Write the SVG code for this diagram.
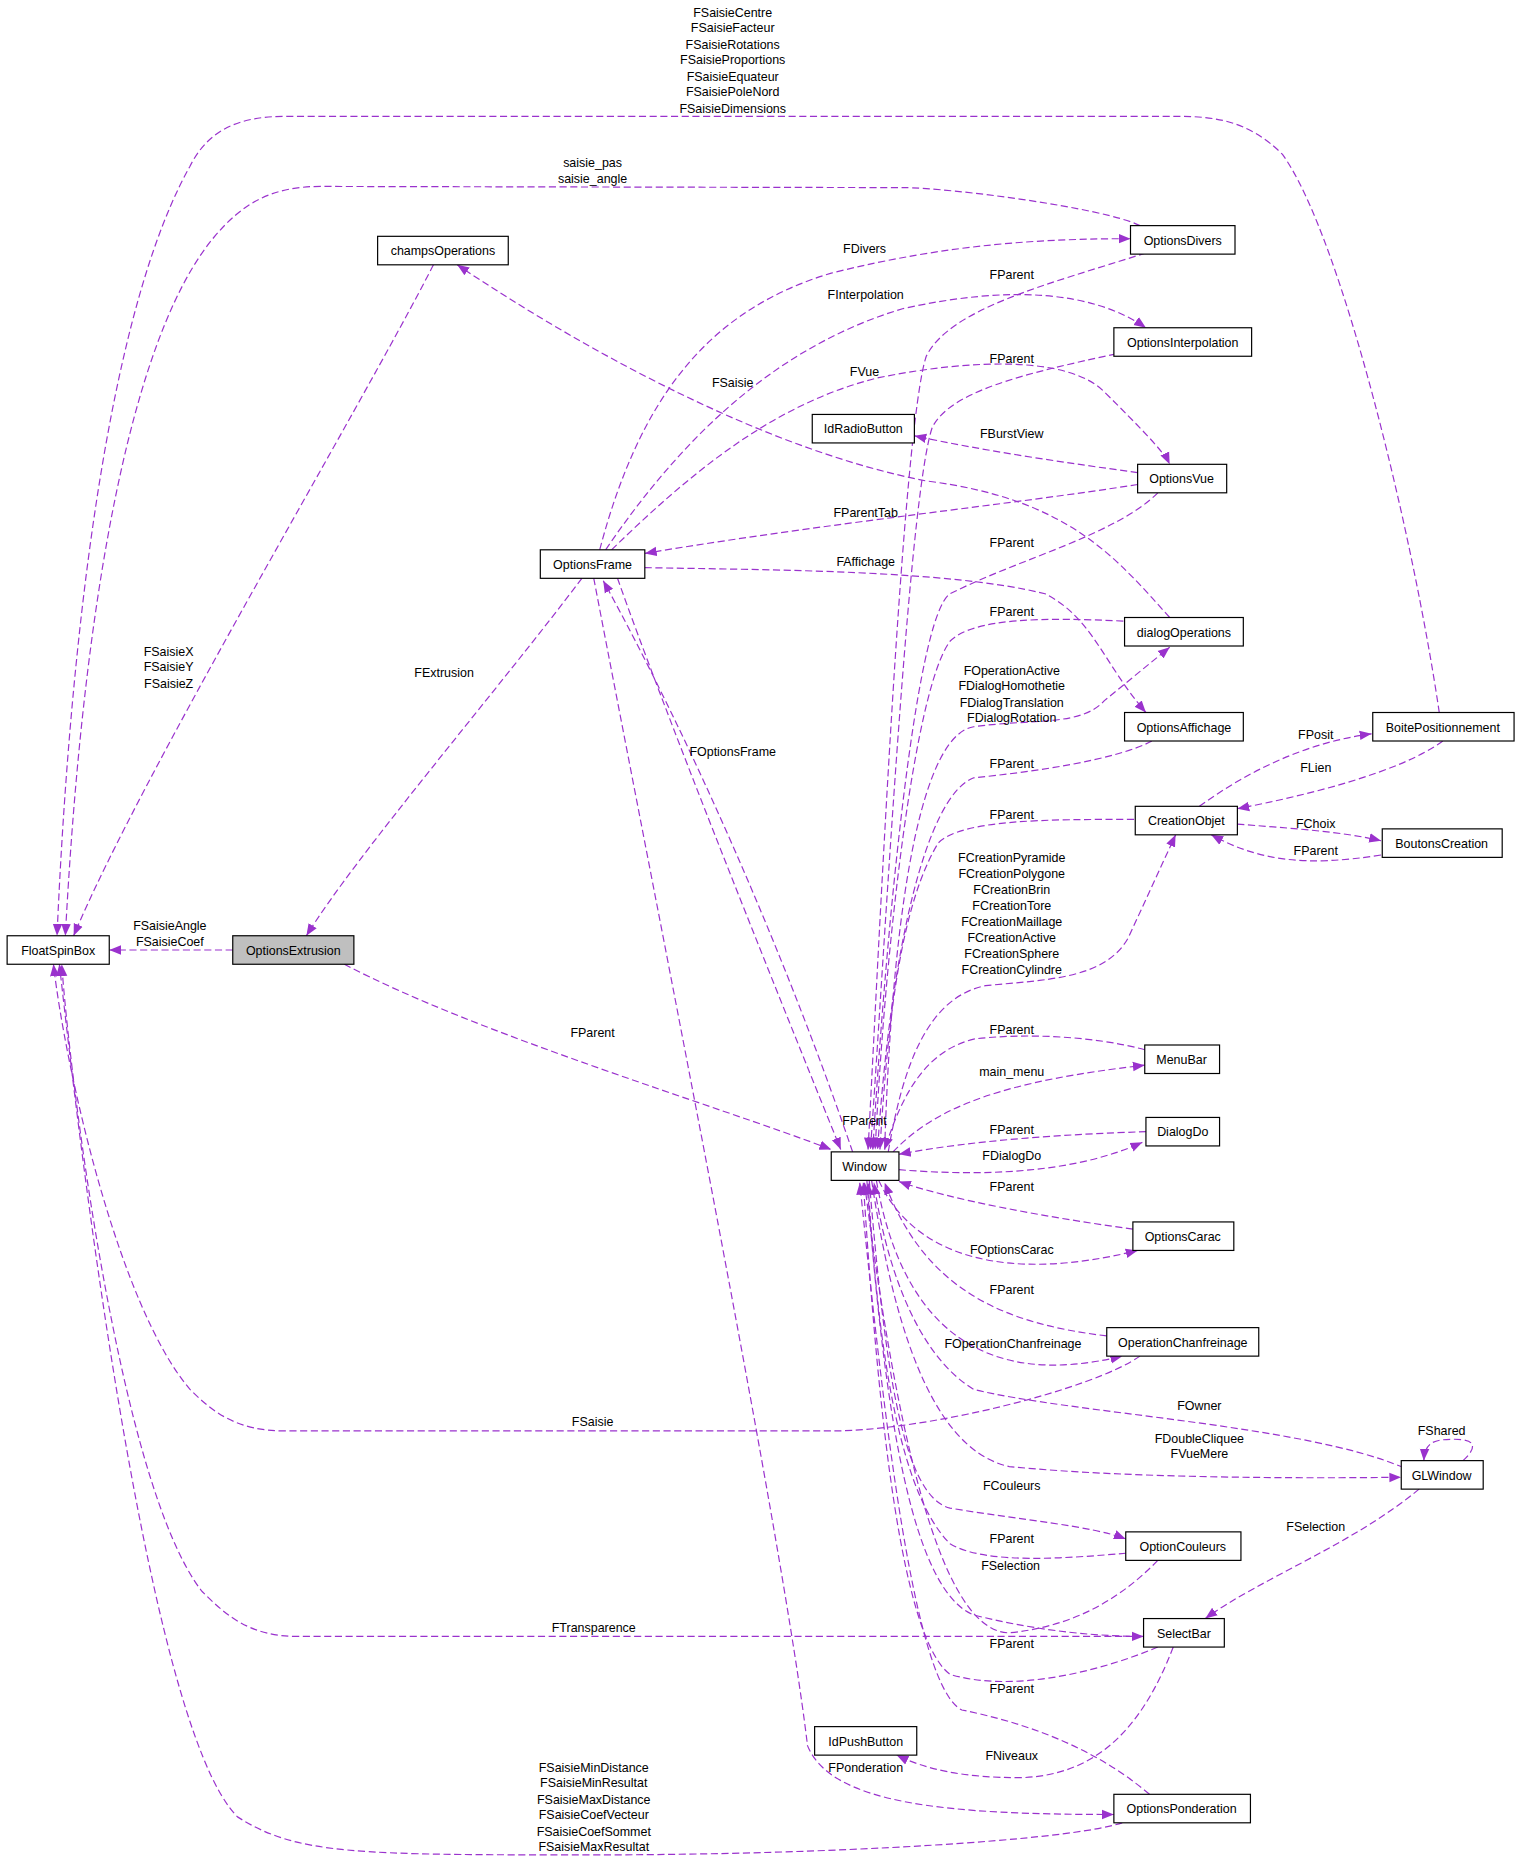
<svg xmlns="http://www.w3.org/2000/svg" width="1520" height="1863" viewBox="0 0 1520 1863">
<defs>
<marker id="ah" viewBox="0 0 10 10" refX="10" refY="5" markerWidth="10" markerHeight="10" markerUnits="userSpaceOnUse" orient="auto"><path d="M0,1 L10,5 L0,9 Z" fill="#9a32cd"/></marker>
<style>
.e{fill:none;stroke:#9a32cd;stroke-width:1;stroke-dasharray:6,3;marker-end:url(#ah)}
.n rect{fill:#fff;stroke:#000;stroke-width:1}
text{font-family:"Liberation Sans",Arial,sans-serif;font-size:10.5px;fill:#000;text-anchor:middle}
</style>
</defs>
<rect width="1520" height="1863" fill="#fff"/>
<g transform="scale(1.1875)">
<g id="edges">
<path class="e" d="M945,1535 C900,1550 700,1562 500,1562 C300,1562 250,1562 200,1530 C120,1450 60,900 50,812"/>
<path class="e" d="M960,190 C930,175 800,158 760,158 L270,157 C230,157 205,170 180,200 C80,320 60,700 55,788"/>
<path class="e" d="M1212,600 C1190,450 1130,200 1080,130 C1050,100 1020,98 990,98 L240,98 C200,98 175,110 160,140 C70,300 52,700 48,788"/>
<path class="e" d="M365,223 C300,350 120,650 62,788"/>
<path class="e" d="M196,800 L92,800"/>
<path class="e" d="M960,1142 C920,1170 780,1205 700,1205 L240,1205 C200,1205 180,1190 160,1170 C100,1100 55,900 45,812"/>
<path class="e" d="M963,1378 L250,1378 C210,1378 190,1360 170,1340 C100,1250 58,900 52,812"/>
<path class="e" d="M965,213 C880,240 800,260 780,300 C760,360 740,800 731,968"/>
<path class="e" d="M940,298 C860,315 800,330 785,360 C765,420 745,800 733,968"/>
<path class="e" d="M975,415 C940,450 860,470 800,500 C770,520 745,800 735,968"/>
<path class="e" d="M946,523 C880,520 820,520 800,540 C770,580 745,800 737,968"/>
<path class="e" d="M970,624 C940,640 870,650 820,655 C780,670 750,800 739,968"/>
<path class="e" d="M955,690 C880,690 810,690 790,710 C760,760 748,850 741,968"/>
<path class="e" d="M745,968 C750,800 770,620 820,612 C870,605 910,612 930,590 L985,545"/>
<path class="e" d="M748,970 C760,900 780,840 830,830 C880,825 930,825 950,790 L990,703"/>
<path class="e" d="M964,884 C920,872 860,870 820,875 C780,885 760,920 745,968"/>
<path class="e" d="M752,970 C790,930 850,910 964,897"/>
<path class="e" d="M965,953 C900,955 820,960 757,972"/>
<path class="e" d="M757,985 C820,990 900,990 962,962"/>
<path class="e" d="M954,1035 C880,1025 800,1010 757,995"/>
<path class="e" d="M740,994 C770,1060 850,1080 958,1053"/>
<path class="e" d="M932,1125 C850,1115 780,1090 745,996"/>
<path class="e" d="M738,994 C760,1120 830,1170 945,1142"/>
<path class="e" d="M1182,1236 C1100,1200 900,1190 820,1170 C770,1140 745,1060 736,996"/>
<path class="e" d="M734,994 C750,1100 780,1220 850,1235 C950,1245 1100,1245 1180,1244"/>
<path class="e" d="M732,994 C745,1150 760,1260 800,1270 C860,1280 920,1285 948,1296"/>
<path class="e" d="M948,1308 C900,1312 830,1318 800,1300 C760,1260 740,1150 731,996"/>
<path class="e" d="M730,994 C745,1200 770,1340 820,1360 C880,1375 930,1378 963,1378"/>
<path class="e" d="M975,1314 C940,1350 900,1370 850,1375 C800,1375 760,1250 728,996"/>
<path class="e" d="M975,1387 C920,1410 850,1425 800,1410 C760,1380 740,1200 727,996"/>
<path class="e" d="M968,1511 C920,1470 860,1450 810,1440 C770,1420 745,1200 724,996"/>
<path class="e" d="M988,1387 C960,1460 920,1495 860,1497 C810,1497 780,1490 755,1478"/>
<path class="e" d="M500,487 C560,800 660,1300 680,1470 C700,1520 800,1528 938,1528"/>
<path class="e" d="M718,970 C660,800 580,620 508,489"/>
<path class="e" d="M520,487 C560,600 640,800 708,968"/>
<path class="e" d="M290,812 C400,870 600,930 700,968"/>
<path class="e" d="M490,487 C420,580 300,720 258,788"/>
<path class="e" d="M505,463 C540,330 600,260 700,230 C800,205 880,201 952,201"/>
<path class="e" d="M510,463 C580,360 660,290 760,260 C850,240 920,245 965,276"/>
<path class="e" d="M515,463 C580,400 650,340 740,318 C820,302 900,300 930,330 C960,360 980,380 985,391"/>
<path class="e" d="M543,478 C650,480 800,480 880,500 C920,520 930,560 965,600"/>
<path class="e" d="M958,408 C850,425 700,440 543,466"/>
<path class="e" d="M958,398 C900,390 830,380 770,367"/>
<path class="e" d="M985,520 C940,470 900,420 780,405 C650,380 500,300 385,223"/>
<path class="e" d="M1010,679 C1050,650 1100,625 1155,618"/>
<path class="e" d="M1215,624 C1180,650 1100,670 1042,681"/>
<path class="e" d="M1042,694 C1080,697 1130,700 1163,708"/>
<path class="e" d="M1163,720 C1100,730 1060,725 1020,703"/>
<path class="e" d="M1232,1230 C1245,1218 1242,1212 1225,1212 C1208,1212 1200,1214 1199,1230"/>
<path class="e" d="M1195,1254 C1140,1300 1060,1330 1015,1363"/>
</g>
<g id="labels">
<text x="617" y="14">FSaisieCentre</text><text x="617" y="27">FSaisieFacteur</text><text x="617" y="41">FSaisieRotations</text><text x="617" y="54">FSaisieProportions</text><text x="617" y="68">FSaisieEquateur</text><text x="617" y="81">FSaisiePoleNord</text><text x="617" y="95">FSaisieDimensions</text>
<text x="499" y="141">saisie_pas</text><text x="499" y="154">saisie_angle</text>
<text x="142" y="552">FSaisieX</text><text x="142" y="565">FSaisieY</text><text x="142" y="579">FSaisieZ</text>
<text x="143" y="783">FSaisieAngle</text><text x="143" y="797">FSaisieCoef</text>
<text x="374" y="570">FExtrusion</text>
<text x="617" y="637">FOptionsFrame</text>
<text x="499" y="873">FParent</text>
<text x="499" y="1201">FSaisie</text>
<text x="500" y="1374">FTransparence</text>
<text x="500" y="1492">FSaisieMinDistance</text><text x="500" y="1505">FSaisieMinResultat</text><text x="500" y="1519">FSaisieMaxDistance</text><text x="500" y="1532">FSaisieCoefVecteur</text><text x="500" y="1546">FSaisieCoefSommet</text><text x="500" y="1559">FSaisieMaxResultat</text>
<text x="728" y="213">FDivers</text>
<text x="852" y="235">FParent</text>
<text x="729" y="252">FInterpolation</text>
<text x="852" y="306">FParent</text>
<text x="728" y="317">FVue</text>
<text x="617" y="326">FSaisie</text>
<text x="852" y="369">FBurstView</text>
<text x="729" y="435">FParentTab</text>
<text x="852" y="461">FParent</text>
<text x="729" y="477">FAffichage</text>
<text x="852" y="519">FParent</text>
<text x="852" y="568">FOperationActive</text><text x="852" y="581">FDialogHomothetie</text><text x="852" y="595">FDialogTranslation</text><text x="852" y="608">FDialogRotation</text>
<text x="852" y="647">FParent</text>
<text x="852" y="690">FParent</text>
<text x="852" y="726">FCreationPyramide</text><text x="852" y="739">FCreationPolygone</text><text x="852" y="753">FCreationBrin</text><text x="852" y="766">FCreationTore</text><text x="852" y="780">FCreationMaillage</text><text x="852" y="793">FCreationActive</text><text x="852" y="807">FCreationSphere</text><text x="852" y="820">FCreationCylindre</text>
<text x="1108" y="622">FPosit</text>
<text x="1108" y="650">FLien</text>
<text x="1108" y="697">FChoix</text>
<text x="1108" y="720">FParent</text>
<text x="852" y="871">FParent</text>
<text x="852" y="906">main_menu</text>
<text x="728" y="947">FParent</text>
<text x="852" y="955">FParent</text>
<text x="852" y="977">FDialogDo</text>
<text x="852" y="1003">FParent</text>
<text x="852" y="1056">FOptionsCarac</text>
<text x="852" y="1090">FParent</text>
<text x="853" y="1135">FOperationChanfreinage</text>
<text x="1010" y="1187">FOwner</text>
<text x="1010" y="1215">FDoubleCliquee</text><text x="1010" y="1228">FVueMere</text>
<text x="1214" y="1208">FShared</text>
<text x="852" y="1255">FCouleurs</text>
<text x="1108" y="1289">FSelection</text>
<text x="852" y="1299">FParent</text>
<text x="851" y="1322">FSelection</text>
<text x="852" y="1388">FParent</text>
<text x="852" y="1426">FParent</text>
<text x="852" y="1482">FNiveaux</text>
<text x="729" y="1492">FPonderation</text>
</g>
<g id="FloatSpinBox" class="n"><rect x="6" y="788" width="86" height="24"/><text x="49" y="804">FloatSpinBox</text></g>
<g id="OptionsExtrusion" class="n"><rect x="196" y="788" width="102" height="24" style="fill:#bfbfbf"/><text x="247" y="804">OptionsExtrusion</text></g>
<g id="champsOperations" class="n"><rect x="318" y="199" width="110" height="24"/><text x="373" y="215">champsOperations</text></g>
<g id="OptionsFrame" class="n"><rect x="455" y="463" width="88" height="24"/><text x="499" y="479">OptionsFrame</text></g>
<g id="Window" class="n"><rect x="700" y="970" width="57" height="24"/><text x="728" y="986">Window</text></g>
<g id="OptionsDivers" class="n"><rect x="952" y="190" width="88" height="24"/><text x="996" y="206">OptionsDivers</text></g>
<g id="OptionsInterpolation" class="n"><rect x="938" y="276" width="116" height="24"/><text x="996" y="292">OptionsInterpolation</text></g>
<g id="IdRadioButton" class="n"><rect x="684" y="349" width="86" height="24"/><text x="727" y="365">IdRadioButton</text></g>
<g id="OptionsVue" class="n"><rect x="958" y="391" width="75" height="24"/><text x="995" y="407">OptionsVue</text></g>
<g id="dialogOperations" class="n"><rect x="947" y="520" width="100" height="24"/><text x="997" y="536">dialogOperations</text></g>
<g id="OptionsAffichage" class="n"><rect x="947" y="600" width="100" height="24"/><text x="997" y="616">OptionsAffichage</text></g>
<g id="BoitePositionnement" class="n"><rect x="1156" y="600" width="119" height="24"/><text x="1215" y="616">BoitePositionnement</text></g>
<g id="CreationObjet" class="n"><rect x="956" y="679" width="86" height="24"/><text x="999" y="695">CreationObjet</text></g>
<g id="BoutonsCreation" class="n"><rect x="1164" y="698" width="101" height="24"/><text x="1214" y="714">BoutonsCreation</text></g>
<g id="MenuBar" class="n"><rect x="964" y="880" width="63" height="24"/><text x="995" y="896">MenuBar</text></g>
<g id="DialogDo" class="n"><rect x="965" y="941" width="62" height="24"/><text x="996" y="957">DialogDo</text></g>
<g id="OptionsCarac" class="n"><rect x="954" y="1029" width="85" height="24"/><text x="996" y="1045">OptionsCarac</text></g>
<g id="OperationChanfreinage" class="n"><rect x="932" y="1118" width="128" height="24"/><text x="996" y="1134">OperationChanfreinage</text></g>
<g id="GLWindow" class="n"><rect x="1180" y="1230" width="69" height="24"/><text x="1214" y="1246">GLWindow</text></g>
<g id="OptionCouleurs" class="n"><rect x="948" y="1290" width="97" height="24"/><text x="996" y="1306">OptionCouleurs</text></g>
<g id="SelectBar" class="n"><rect x="963" y="1363" width="68" height="24"/><text x="997" y="1379">SelectBar</text></g>
<g id="IdPushButton" class="n"><rect x="686" y="1454" width="86" height="24"/><text x="729" y="1470">IdPushButton</text></g>
<g id="OptionsPonderation" class="n"><rect x="938" y="1511" width="115" height="24"/><text x="995" y="1527">OptionsPonderation</text></g>
</g>
</svg>
